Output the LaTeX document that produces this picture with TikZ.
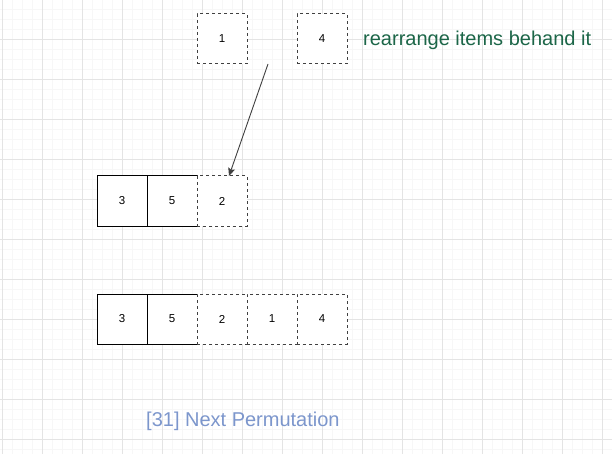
\documentclass[tikz,border=0pt]{standalone}
\usepackage{fontspec}
\setmainfont{Liberation Sans}
\usetikzlibrary{arrows.meta, positioning}
\definecolor{gridmajor}{RGB}{228,228,228}
\definecolor{gridminor}{RGB}{247,247,247}
\definecolor{notegreen}{RGB}{28,102,72}
\definecolor{titleblue}{RGB}{124,150,204}
\tikzset{
  cell/.style={draw=black, line width=1pt, fill=white, minimum size=50pt, inner sep=0pt, outer sep=0pt, font=\fontsize{11.5}{13}\selectfont},
  dcell/.style={cell, draw=black!75, dash pattern=on 3pt off 3pt},
  note/.style={inner sep=0pt, font=\fontsize{20}{24}\selectfont}
}
\begin{document}
\begin{tikzpicture}[x=1pt, y=-1pt]
  \useasboundingbox (0,0) rectangle (612,454);
  \fill[white] (0,0) rectangle (612,454);
  \foreach \g in {0,10,...,610} \draw[gridminor, line width=0.5pt] (\g+2.3,0) -- (\g+2.3,454);
  \foreach \g in {0,10,...,450} \draw[gridminor, line width=0.5pt] (0,\g-0.7) -- (612,\g-0.7);
  \foreach \g in {0,40,...,600} \draw[gridmajor, line width=0.8pt] (\g+2.3,0) -- (\g+2.3,454);
  \foreach \g in {40,80,...,440} \draw[gridmajor, line width=0.8pt] (0,\g-0.7) -- (612,\g-0.7);

  \node[dcell] (t1) at (222,39) {1};
  \node[dcell] (t4) at (322,39) {4};
  \node[note, text=notegreen, anchor=base west] (hint) at (363,46) {rearrange items behand it};

  \node[cell] (m3) at (122,201) {3};
  \node[cell, right=0pt of m3] (m5) {5};
  \node[dcell, right=0pt of m5] (m2) {2};

  \node[cell] (b3) at (122,319) {3};
  \node[cell, right=0pt of b3] (b5) {5};
  \node[dcell, right=0pt of b5] (b2) {2};
  \node[dcell, right=0pt of b2] (b1) {1};
  \node[dcell, right=0pt of b1] (b4) {4};

  \coordinate (from) at (268,64);
  \coordinate (to) at ([xshift=7pt]m2.north);
  \draw[black!75, line width=0.9pt, -{Stealth[length=8pt, width=7pt, inset=1.5pt]}] (from) -- (to);

  \node[note, text=titleblue, anchor=base west] (title) at (146,426) {[31] Next Permutation};
\end{tikzpicture}
\end{document}
